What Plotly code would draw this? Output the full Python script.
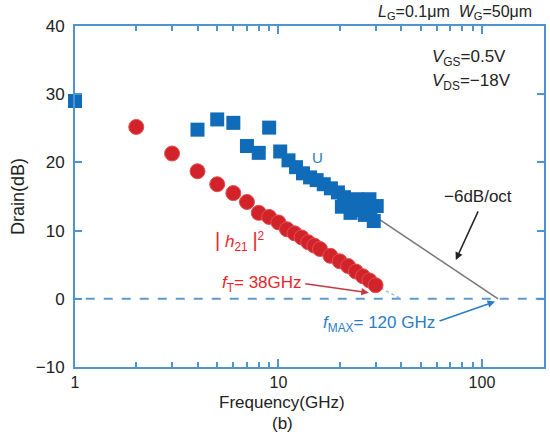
import plotly.graph_objects as go
import numpy as np

# ---- data ----
u_freq = [1, 4, 5, 6, 7, 8, 9, 10.2, 11.2, 12.2, 13.2, 14.3, 15.4, 16.7, 18.1, 19.6, 21.0,
          20.5, 22.4, 22.6, 24.3, 24.8, 26.2, 26.6, 28.0, 28.3, 30.4, 29.4]
u_db = [29.0, 24.8, 26.3, 25.8, 22.4, 21.4, 25.1, 21.6, 20.3, 19.3, 18.4, 17.8, 17.4, 16.8, 16.2, 15.6, 14.9,
        13.5, 14.0, 12.6, 14.6, 13.0, 13.9, 12.3, 14.6, 12.8, 13.6, 11.4]

h21_freq = [2, 3, 4, 5, 6, 7, 8, 9, 10, 11, 12, 13, 14, 15, 16, 18, 20, 22, 24, 26, 28, 30]
h21_db = [25.2, 21.3, 18.7, 16.8, 15.5, 14.2, 12.6, 12.0, 11.2, 10.2, 9.6, 9.0, 8.3, 7.8, 7.3,
          6.3, 5.5, 4.8, 4.0, 3.3, 2.7, 2.0]

roll_freq = [30, 120]      # -6 dB/oct extrapolation of U
roll_db = [12.0, 0.0]
ft_ext_freq = [30, 40]     # extrapolation of |h21|^2
ft_ext_db = [2.0, 0.0]
zero_freq = [0.5, 400]
zero_db = [0, 0]

y_ticks = [-10, 0, 10, 20, 30, 40]
y_ticktext = ["\u221210", "0", "10", "20", "30", "40"]
x_ticks = [1, 10, 100]
x_ticktext = ["1", "10", "100"]
x_minor = [2, 3, 4, 5, 6, 7, 8, 9, 20, 30, 40, 50, 60, 70, 80, 90]

AX = "#4f93cf"
SQ = "#106cb8"
RED = "#d3232a"
RED_T = "#e8262a"
BLUE_T = "#2b7cc4"
FONT = "Liberation Sans, Arial, sans-serif"

fig = go.Figure()
fig.add_trace(go.Scatter(x=zero_freq, y=zero_db, mode="lines",
                         line=dict(color="#5b9bd0", width=2, dash="dash"),
                         hoverinfo="skip", showlegend=False))
fig.add_trace(go.Scatter(x=roll_freq, y=roll_db, mode="lines",
                         line=dict(color="#777777", width=1.5),
                         showlegend=False))
fig.add_trace(go.Scatter(x=ft_ext_freq, y=ft_ext_db, mode="lines",
                         line=dict(color="#9db8d8", width=1.5, dash="dot"),
                         showlegend=False))
fig.add_trace(go.Scatter(x=h21_freq, y=h21_db, mode="markers",
                         marker=dict(symbol="circle", size=15, color=RED,
                                     line=dict(color="#e05050", width=1)),
                         cliponaxis=False, showlegend=False))
fig.add_trace(go.Scatter(x=u_freq, y=u_db, mode="markers",
                         marker=dict(symbol="square", size=14, color=SQ,
                                     line=dict(width=0)),
                         cliponaxis=False, showlegend=False))

L, R, T, B = 75, 4, 26, 67
W, H = 550, 434
PW, PH = W - L - R, H - T - B


def px(x):
    return (x - L) / PW


def py(y):
    return (H - B - y) / PH


anns = []


def text(s, x, y, color="#222", size=16, xanchor="left"):
    anns.append(dict(text=s, x=px(x), y=py(y), xref="paper", yref="paper",
                     xanchor=xanchor, yanchor="middle", showarrow=False,
                     font=dict(color=color, size=size, family=FONT)))


text("<i>L</i><sub>G</sub>=0.1\u03bcm  <i>W</i><sub>G</sub>=50\u03bcm", 377, 12, size=16)
text("<i>V</i><sub>GS</sub>=0.5V", 432, 58, size=17)
text("<i>V</i><sub>DS</sub>=\u221218V", 432, 82, size=17)
text("U", 319, 157, color=BLUE_T, size=15, xanchor="center")
text("<span style='font-size:20px'>|</span> <i>h</i><sub>21</sub> <span style='font-size:20px'>|</span><sup>2</sup>",
     214, 241, color=RED_T, size=17)
text("<i>f</i><sub>T</sub>= 38GHz", 221, 284, color=RED_T, size=17)
text("<i>f</i><sub>MAX</sub>= 120 GHz", 322, 324, color=BLUE_T, size=17)
text("\u22126dB/oct", 444, 196, size=17)
text("Frequency(GHz)", 283, 403, size=17, xanchor="center")
text("(b)", 283, 423, size=17, xanchor="center")

# arrows (x in log10 units for log axis)
anns.append(dict(x=np.log10(27.8), y=0.9, xref="x", yref="y", ax=-65, ay=-9,
                 showarrow=True, arrowhead=2, arrowsize=1, arrowwidth=1.5,
                 arrowcolor="#c23a40", text=""))
anns.append(dict(x=np.log10(116), y=-0.4, xref="x", yref="y", ax=-57, ay=20,
                 showarrow=True, arrowhead=2, arrowsize=1, arrowwidth=1.5,
                 arrowcolor="#2b7cc4", text=""))
anns.append(dict(x=np.log10(74.4), y=5.7, xref="x", yref="y", ax=23, ay=-50,
                 showarrow=True, arrowhead=2, arrowsize=1, arrowwidth=1.5,
                 arrowcolor="#222222", text=""))

fig.update_layout(
    width=W, height=H,
    margin=dict(l=L, r=R, t=T, b=B),
    paper_bgcolor="white", plot_bgcolor="white",
    font=dict(family=FONT, color="#222", size=16),
    annotations=anns,
    showlegend=False,
)
fig.update_xaxes(type="log", range=[0, 2.305], showgrid=False, zeroline=False,
                 showline=True, linecolor=AX, linewidth=2, mirror="ticks",
                 ticks="inside", ticklen=8, tickwidth=1.5, tickcolor=AX,
                 tickvals=x_ticks, ticktext=x_ticktext,
                 minor=dict(tickvals=x_minor, ticks="inside", ticklen=5,
                            tickwidth=1.5, tickcolor=AX),
                 tickfont=dict(size=16, color="#222"))
fig.update_yaxes(range=[-10, 40], showgrid=False, zeroline=False,
                 showline=True, linecolor=AX, linewidth=2, mirror="ticks",
                 ticks="inside", ticklen=7, tickwidth=1.5, tickcolor=AX,
                 tickvals=y_ticks, ticktext=y_ticktext, ticklabelstandoff=5,
                 tickfont=dict(size=17, color="#222"),
                 title=dict(text="Drain(dB)", font=dict(size=18, color="#222"), standoff=6))

fig.write_html("out.html")
